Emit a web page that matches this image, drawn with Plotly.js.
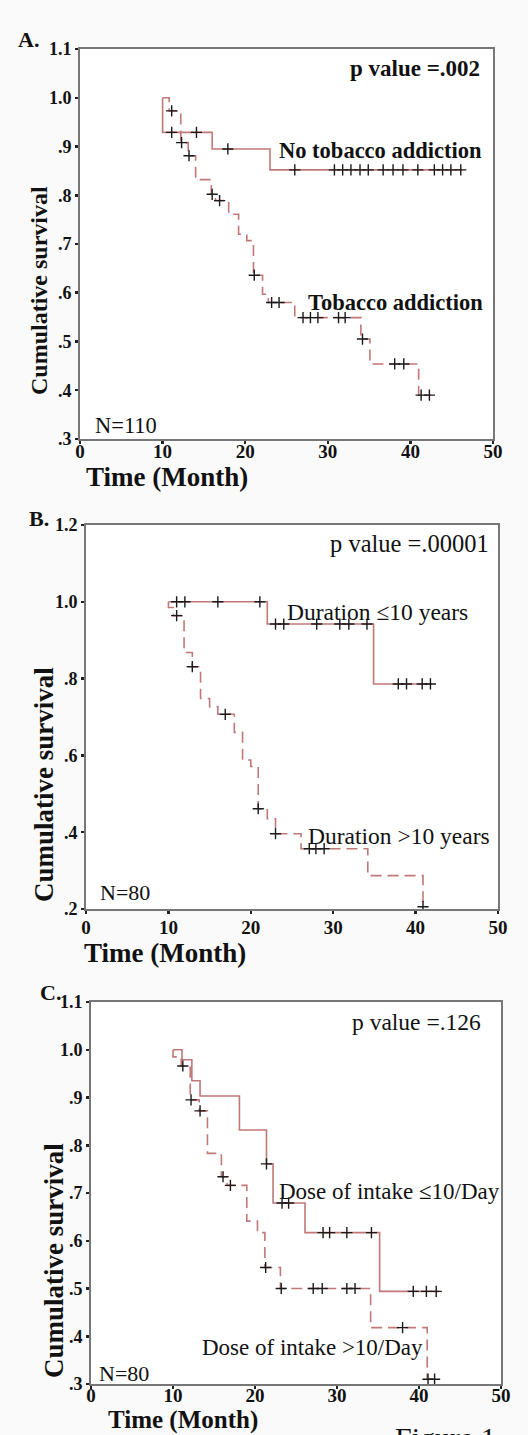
<!DOCTYPE html>
<html>
<head>
<meta charset="utf-8">
<script src="https://cdn.plot.ly/plotly-3.0.1.min.js"></script>
<style>
  html, body { margin: 0; padding: 0; background: #fafafa; }
  #chart { width: 528px; height: 1435px; }
</style>
</head>
<body>
<div id="chart"></div>
<script>
// ---------- Data ----------
// Panel A: tobacco addiction
const aNoTobT = [10, 10, 16, 23, 46.3];
const aNoTobS = [1.0, 0.929, 0.895, 0.852, 0.852];
const aNoTobCensT = [11.1, 14.1, 17.9, 26.0, 30.8, 31.8, 32.8, 33.9, 34.9, 36.7, 37.9, 39.1, 40.9, 42.9, 43.9, 44.9, 46.1];
const aNoTobCensS = [0.929, 0.929, 0.895, 0.852, 0.852, 0.852, 0.852, 0.852, 0.852, 0.852, 0.852, 0.852, 0.852, 0.852, 0.852, 0.852, 0.852];

const aTobT = [10, 10.8, 12.2, 13.1, 14.0, 15.9, 16.4, 18.0, 19.2, 20.2, 21.0, 22.1, 22.8, 26.0, 34.0, 35.1, 41.0, 42.4];
const aTobS = [1.0, 0.973, 0.908, 0.881, 0.832, 0.802, 0.789, 0.761, 0.720, 0.707, 0.636, 0.597, 0.580, 0.549, 0.505, 0.454, 0.390, 0.390];
const aTobCensT = [11.1, 12.3, 13.2, 16.0, 16.9, 21.1, 23.2, 24.1, 27.0, 27.9, 28.8, 31.3, 32.1, 34.2, 38.1, 39.2, 41.3, 42.3];
const aTobCensS = [0.973, 0.908, 0.881, 0.802, 0.789, 0.636, 0.580, 0.580, 0.549, 0.549, 0.549, 0.549, 0.549, 0.505, 0.454, 0.454, 0.390, 0.390];

// Panel B: duration of tobacco use
const bShortT = [10, 22.0, 34.9, 42.0];
const bShortS = [1.0, 0.942, 0.786, 0.786];
const bShortCensT = [11.0, 12.0, 16.0, 21.1, 23.0, 24.0, 28.0, 30.8, 31.9, 34.1, 37.9, 38.9, 40.8, 41.8];
const bShortCensS = [1.0, 1.0, 1.0, 1.0, 0.942, 0.942, 0.942, 0.942, 0.942, 0.942, 0.786, 0.786, 0.786, 0.786];

const bLongT = [10, 10, 10.6, 11.9, 12.9, 13.9, 15.0, 16.0, 18.0, 19.0, 20.0, 20.9, 22.0, 23.0, 26.1, 34.2, 40.9, 41.1];
const bLongS = [1.0, 0.985, 0.964, 0.868, 0.831, 0.748, 0.727, 0.707, 0.660, 0.588, 0.571, 0.461, 0.435, 0.396, 0.357, 0.287, 0.206, 0.206];
const bLongCensT = [11.0, 12.9, 16.9, 20.9, 23.0, 27.1, 27.9, 28.9, 40.9];
const bLongCensS = [0.964, 0.831, 0.707, 0.461, 0.396, 0.357, 0.357, 0.357, 0.206];

// Panel C: dose of intake
const cLowT = [10, 11.1, 12.3, 13.3, 18.1, 21.4, 22.2, 26.1, 35.2, 42.4];
const cLowS = [1.0, 0.979, 0.935, 0.903, 0.832, 0.761, 0.679, 0.617, 0.494, 0.494];
const cLowCensT = [21.4, 23.3, 24.1, 28.3, 29.1, 31.2, 34.2, 39.3, 40.9, 42.1];
const cLowCensS = [0.761, 0.679, 0.679, 0.617, 0.617, 0.617, 0.617, 0.494, 0.494, 0.494];

const cHighT = [10, 10, 11.0, 12.1, 13.2, 14.2, 15.9, 16.6, 19.0, 20.3, 21.2, 23.1, 34.1, 41.0, 41.9];
const cHighS = [1.0, 0.985, 0.966, 0.895, 0.872, 0.783, 0.734, 0.716, 0.641, 0.617, 0.544, 0.500, 0.418, 0.310, 0.310];
const cHighCensT = [11.2, 12.2, 13.3, 16.1, 17.0, 21.3, 23.2, 27.1, 28.2, 31.2, 32.2, 38.0, 41.1, 41.9];
const cHighCensS = [0.966, 0.895, 0.872, 0.734, 0.716, 0.544, 0.500, 0.500, 0.500, 0.500, 0.500, 0.418, 0.310, 0.310];

// Tick labels
const xTickVals = [0, 10, 20, 30, 40, 50];
const xTickText = ['0', '10', '20', '30', '40', '50'];
const yTickValsAC = [0.3, 0.4, 0.5, 0.6, 0.7, 0.8, 0.9, 1.0, 1.1];
const yTickTextAC = ['.3', '.4', '.5', '.6', '.7', '.8', '.9', '1.0', '1.1'];
const yTickValsB = [0.2, 0.4, 0.6, 0.8, 1.0, 1.2];
const yTickTextB = ['.2', '.4', '.6', '.8', '1.0', '1.2'];

// ---------- Styles ----------
const SERIF = 'Liberation Serif, Times New Roman, serif';
const LINE_COLOR = '#c27878';
const CENS_COLOR = '#1a1a1a';
const DASH = '11px,6px';

function stepTrace(x, y, xa, ya, dashed) {
  return { x: x, y: y, xaxis: xa, yaxis: ya, type: 'scatter', mode: 'lines',
    line: { shape: 'hv', color: LINE_COLOR, width: 1.6, dash: dashed ? DASH : 'solid' },
    hoverinfo: 'skip' };
}
function censTrace(x, y, xa, ya) {
  return { x: x, y: y, xaxis: xa, yaxis: ya, type: 'scatter', mode: 'markers',
    marker: { symbol: 'cross-thin', size: 8, color: CENS_COLOR, line: { color: CENS_COLOR, width: 1.4 } },
    hoverinfo: 'skip' };
}

const data = [
  stepTrace(aNoTobT, aNoTobS, 'x', 'y', false),
  stepTrace(aTobT, aTobS, 'x', 'y', true),
  censTrace(aNoTobCensT, aNoTobCensS, 'x', 'y'),
  censTrace(aTobCensT, aTobCensS, 'x', 'y'),
  stepTrace(bShortT, bShortS, 'x2', 'y2', false),
  stepTrace(bLongT, bLongS, 'x2', 'y2', true),
  censTrace(bShortCensT, bShortCensS, 'x2', 'y2'),
  censTrace(bLongCensT, bLongCensS, 'x2', 'y2'),
  stepTrace(cLowT, cLowS, 'x3', 'y3', false),
  stepTrace(cHighT, cHighS, 'x3', 'y3', true),
  censTrace(cLowCensT, cLowCensS, 'x3', 'y3'),
  censTrace(cHighCensT, cHighCensS, 'x3', 'y3')
];

const W = 528, H = 1435;
const px = v => v / W;
const py = v => 1 - v / H;

function xAxis(domain, anchor, standoff) {
  return { domain: domain, anchor: anchor, range: [0, 50], tickmode: 'array',
    tickvals: xTickVals, ticktext: xTickText, ticks: 'outside', ticklen: 3, tickwidth: 2.5,
    tickcolor: '#222', showline: true, mirror: true, linecolor: '#777', linewidth: 2,
    showgrid: false, zeroline: false, fixedrange: true, ticklabelstandoff: standoff,
    tickfont: { family: SERIF, size: 19, color: '#111', weight: 'bold' } };
}
function yAxis(domain, anchor, range, vals, text) {
  return { domain: domain, anchor: anchor, range: range, tickmode: 'array',
    tickvals: vals, ticktext: text, ticks: 'outside', ticklen: 3, tickwidth: 2.5,
    tickcolor: '#222', showline: true, mirror: true, linecolor: '#777', linewidth: 2,
    showgrid: false, zeroline: false, fixedrange: true,
    tickfont: { family: SERIF, size: 18, color: '#111', weight: 'bold' } };
}

function ann(text, x, y, xref, yref, opts) {
  const o = Object.assign({ size: 21, bold: false, xanchor: 'left', yanchor: 'middle', angle: 0 }, opts || {});
  return { text: text, x: x, y: y, xref: xref, yref: yref, showarrow: false,
    xanchor: o.xanchor, yanchor: o.yanchor, textangle: o.angle,
    font: { family: SERIF, size: o.size, color: '#111', weight: o.bold ? 'bold' : 'normal' } };
}

const annotations = [
  // Panel A
  ann('A.', px(28), py(40), 'paper', 'paper', { size: 22, bold: true, xanchor: 'center' }),
  ann('p value =.002', 48.7, 1.06, 'x', 'y', { size: 23, bold: true, xanchor: 'right' }),
  ann('No tobacco addiction', 23.9, 0.891, 'x', 'y', { size: 22.5, bold: true }),
  ann('Tobacco addiction', 27.4, 0.579, 'x', 'y', { size: 22.5, bold: true }),
  ann('N=110', 1.6, 0.327, 'x', 'y', { size: 22.5 }),
  ann('Cumulative survival', px(39), py(291), 'paper', 'paper', { size: 24, bold: true, xanchor: 'center', angle: -90 }),
  ann('Time (Month)', px(167), py(477), 'paper', 'paper', { size: 27, bold: true, xanchor: 'center' }),
  // Panel B
  ann('B.', px(39), py(518), 'paper', 'paper', { size: 22, bold: true, xanchor: 'center' }),
  ann('p value =.00001', 49.2, 1.152, 'x2', 'y2', { size: 24.5, xanchor: 'right' }),
  ann('Duration \u226410 years', 24.1, 0.974, 'x2', 'y2', { size: 23.5 }),
  ann('Duration >10 years', 26.7, 0.389, 'x2', 'y2', { size: 23.5 }),
  ann('N=80', 1.4, 0.243, 'x2', 'y2', { size: 22 }),
  ann('Cumulative survival', px(44), py(785), 'paper', 'paper', { size: 27, bold: true, xanchor: 'center', angle: -90 }),
  ann('Time (Month)', px(165), py(953), 'paper', 'paper', { size: 27, bold: true, xanchor: 'center' }),
  // Panel C
  ann('C.', px(50), py(992), 'paper', 'paper', { size: 22, bold: true, xanchor: 'center' }),
  ann('p value =.126', 47.8, 1.059, 'x3', 'y3', { size: 23.5, xanchor: 'right' }),
  ann('Dose of intake \u226410/Day', 22.7, 0.703, 'x3', 'y3', { size: 23 }),
  ann('Dose of intake >10/Day', 13.3, 0.377, 'x3', 'y3', { size: 23 }),
  ann('N=80', 0.7, 0.321, 'x3', 'y3', { size: 22 }),
  ann('Cumulative survival', px(54), py(1261), 'paper', 'paper', { size: 27, bold: true, xanchor: 'center', angle: -90 }),
  ann('Time (Month)', px(183), py(1420), 'paper', 'paper', { size: 25, bold: true, xanchor: 'center' }),
  ann('Figure 1', px(393), py(1419), 'paper', 'paper', { size: 30, yanchor: 'top' })
];

const layout = {
  width: W, height: H,
  margin: { l: 0, r: 0, t: 0, b: 0 },
  paper_bgcolor: '#fafafa', plot_bgcolor: '#ffffff',
  showlegend: false,
  xaxis: xAxis([0.15152, 0.93371], 'y', -9),
  yaxis: yAxis([0.69408, 0.96585], 'x', [0.3, 1.1], yTickValsAC, yTickTextAC),
  xaxis2: xAxis([0.16288, 0.94318], 'y2', -3),
  yaxis2: yAxis([0.36655, 0.63415], 'x2', [0.2, 1.2], yTickValsB, yTickTextB),
  xaxis3: xAxis([0.17235, 0.94886], 'y3', -10),
  yaxis3: yAxis([0.03554, 0.30174], 'x3', [0.3, 1.1], yTickValsAC, yTickTextAC),
  annotations: annotations
};

Plotly.newPlot('chart', data, layout, { staticPlot: true, displayModeBar: false });
</script>
</body>
</html>
